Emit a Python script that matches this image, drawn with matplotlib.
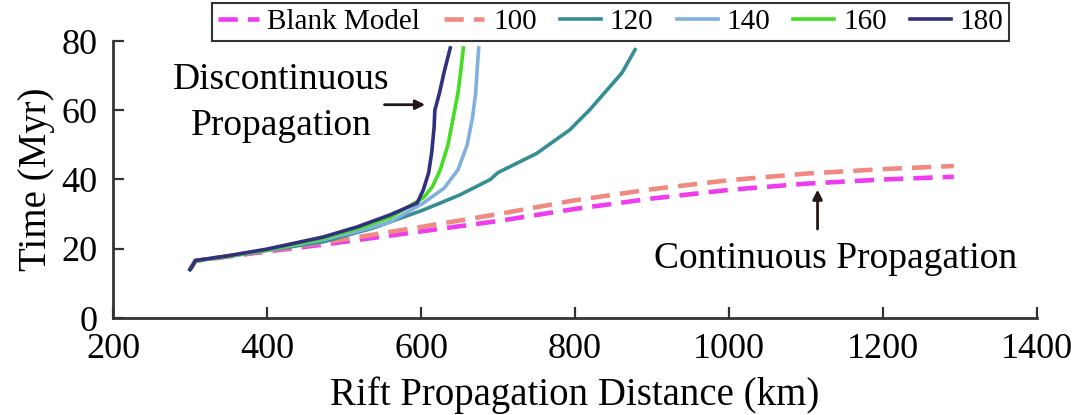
import matplotlib
matplotlib.use("Agg")
import matplotlib.pyplot as plt

plt.rcParams['font.family'] = ['Liberation Serif', 'DejaVu Serif']

# ---- data (x: km, y: Myr) ----
blank_x = [300, 303, 307, 350, 400, 480, 600, 700, 800, 900, 1000, 1100, 1200, 1292]
blank_y = [14.0, 15.0, 16.5, 17.8, 19.2, 21.4, 25.0, 28.0, 31.5, 34.5, 37.0, 38.8, 40.0, 40.8]

w100_x = [300, 303, 307, 350, 400, 480, 600, 700, 800, 900, 1000, 1100, 1200, 1292]
w100_y = [14.0, 15.0, 16.5, 17.8, 19.4, 22.0, 26.3, 30.0, 34.0, 37.2, 39.8, 41.7, 43.0, 43.9]

w120_x = [300, 303, 307, 350, 400, 473, 538, 603, 650, 690, 700, 750, 793, 819, 861, 878]
w120_y = [14.0, 15.0, 16.5, 17.8, 19.5, 22.0, 26.0, 31.2, 35.5, 40.0, 42.0, 47.5, 54.3, 60.1, 70.8, 77.5]

w140_x = [300, 303, 307, 350, 400, 473, 517, 560, 603, 630, 648, 660, 667, 671, 673, 675]
w140_y = [14.0, 15.0, 16.5, 17.9, 19.6, 22.6, 25.0, 27.7, 33.2, 37.5, 42.8, 50.0, 58.0, 65.0, 72.0, 78.0]

w160_x = [300, 303, 307, 350, 400, 473, 517, 560, 603, 615, 625, 635, 642, 648, 652, 655]
w160_y = [14.0, 15.0, 16.5, 17.9, 19.7, 23.0, 25.8, 29.0, 34.7, 38.0, 42.8, 50.0, 58.0, 65.0, 72.0, 78.0]

w180_x = [300, 303, 307, 350, 400, 473, 517, 560, 595, 603, 610, 614, 617, 618, 624, 630, 638]
w180_y = [14.0, 15.0, 16.6, 18.0, 19.9, 23.4, 26.3, 29.8, 33.2, 37.0, 42.0, 48.0, 55.0, 60.0, 65.0, 71.0, 78.0]

labels = ['Blank Model', '100', '120', '140', '160', '180']
colors = ['#ee3cee', '#f08a80', '#358e92', '#80b0dc', '#44dd22', '#30307c']

xticks = [200, 400, 600, 800, 1000, 1200, 1400]
yticks = [0, 20, 40, 60, 80]

W, H = 1079, 415
fig = plt.figure(figsize=(W / 100, H / 100), dpi=100)
ax = fig.add_axes([113 / W, (H - 318) / H, 924 / W, 277 / H])

series = [(blank_x, blank_y), (w100_x, w100_y), (w120_x, w120_y),
          (w140_x, w140_y), (w160_x, w160_y), (w180_x, w180_y)]
handles = []
for i, ((xs, ys), lab, c) in enumerate(zip(series, labels, colors)):
    if i < 2:
        h, = ax.plot(xs, ys, color=c, lw=3.3, dashes=(4.2, 2.2), label=lab)
    else:
        h, = ax.plot(xs, ys, color=c, lw=2.6, label=lab, solid_joinstyle='round')
    handles.append(h)

ax.set_xlim(200, 1400)
ax.set_ylim(0, 80)
ax.set_xticks(xticks)
ax.set_yticks(yticks)
ax.tick_params(direction='in', length=8, width=1.6, labelsize=26, color='#333333')
ax.tick_params(axis='x', pad=11)
ax.tick_params(axis='y', pad=11)
for s in ['top', 'right']:
    ax.spines[s].set_visible(False)
for s in ['left', 'bottom']:
    ax.spines[s].set_linewidth(2.0)
    ax.spines[s].set_color('#333333')

ax.set_xlabel('Rift Propagation Distance (km)', fontsize=28, labelpad=7)
ax.set_ylabel('Time (Myr)', fontsize=28, labelpad=5)

# annotations
ax.text(418, 66.2, 'Discontinuous', fontsize=27, ha='center', va='baseline')
ax.text(418, 52.9, 'Propagation', fontsize=27, ha='center', va='baseline')
ax.annotate('', xy=(609, 61.6), xytext=(549, 61.6),
            arrowprops=dict(arrowstyle='-|>', color='#231815', lw=2.0, mutation_scale=14))
ax.text(1139, 14.5, 'Continuous Propagation', fontsize=27, ha='center', va='baseline')
ax.annotate('', xy=(1115, 37.9), xytext=(1115, 24.9),
            arrowprops=dict(arrowstyle='-|>', color='#231815', lw=2.0, mutation_scale=14))

leg = fig.legend(handles=handles, labels=labels, loc='upper left',
                 bbox_to_anchor=(212 / W, 1 - 3 / H), ncol=6, fontsize=21,
                 frameon=True, fancybox=False, edgecolor='black',
                 handlelength=1.4, handletextpad=0.3, columnspacing=0.8,
                 borderpad=0.2, borderaxespad=0)
leg.get_frame().set_linewidth(1.5)

fig.savefig('out.png', dpi=100)
